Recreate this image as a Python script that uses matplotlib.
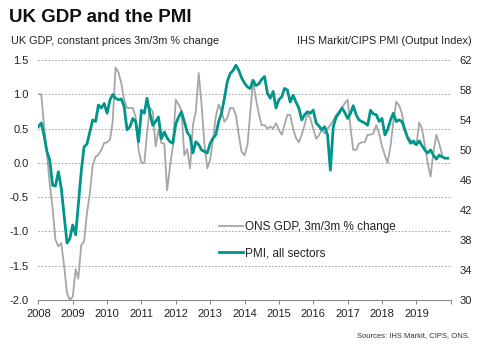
import matplotlib
matplotlib.use("Agg")
import matplotlib.pyplot as plt
import numpy as np
import pandas as pd

plt.rcParams['font.family'] = ['Liberation Sans', 'DejaVu Sans']

# monthly series, Jan 2008 onwards
gdp = [1.00, 1.00, 0.55, 0.15, -0.30, -0.66, -1.12, -1.22, -1.17, -1.50,
       -1.90, -2.00, -1.95, -1.55, -1.69, -1.20, -1.15, -0.73, -0.45, -0.03,
       0.09, 0.12, 0.19, 0.29, 0.30, 0.34, 0.60, 1.39, 1.32, 1.16,
       0.92, 0.80, 0.80, 0.80, 0.67, 0.19, 0.00, 0.00, 0.43, 0.80,
       0.75, 0.24, 0.48, 0.29, 0.28, -0.40, -0.05, 0.24, 0.92, 0.85,
       0.77, 0.11, 0.20, -0.08, 0.55, 0.75, 1.31, 0.85, 0.26, -0.08,
       0.05, 0.35, 0.67, 0.85, 0.75, 0.60, 0.65, 0.80, 0.80, 0.70,
       0.40, 0.16, 0.11, 0.26, 0.70, 1.20, 0.94, 0.72, 0.55, 0.55,
       0.50, 0.53, 0.50, 0.58, 0.48, 0.41, 0.55, 0.70, 0.70, 0.50,
       0.36, 0.30, 0.41, 0.55, 0.72, 0.65, 0.50, 0.35, 0.40, 0.48,
       0.43, 0.50, 0.55, 0.62, 0.70, 0.75, 0.80, 0.87, 0.92, 0.50,
       0.19, 0.19, 0.28, 0.30, 0.30, 0.41, 0.41, 0.43, 0.55, 0.43,
       0.24, 0.11, 0.00, 0.24, 0.60, 0.89, 0.84, 0.72, 0.48, 0.38,
       0.33, 0.28, 0.26, 0.59, 0.50, 0.26, 0.00, -0.20, 0.15, 0.41,
       0.28, 0.12]

pmi = [53.1, 53.6, 52.0, 49.8, 48.7, 45.3, 45.2, 47.1, 44.9, 41.3,
       37.6, 38.2, 40.0, 38.7, 42.7, 47.1, 50.4, 50.8, 52.4, 54.0,
       53.8, 56.0, 55.6, 56.2, 54.9, 56.7, 57.4, 56.9, 56.7, 56.8,
       55.8, 52.7, 53.1, 54.2, 53.8, 51.1, 55.3, 54.9, 56.9, 54.9,
       53.3, 53.8, 54.4, 51.5, 52.4, 51.6, 51.1, 50.9, 53.5, 54.4,
       55.1, 53.8, 52.4, 51.8, 49.6, 51.1, 50.7, 50.0, 49.8, 49.6,
       50.9, 51.6, 52.0, 53.8, 54.9, 56.9, 59.1, 60.2, 60.6, 61.3,
       60.6, 59.6, 58.9, 58.4, 58.2, 59.3, 58.6, 58.8, 59.4, 59.8,
       57.6, 56.9, 57.8, 55.6, 56.7, 57.1, 58.2, 58.0, 56.4, 57.3,
       56.4, 55.6, 54.0, 54.7, 55.1, 54.9, 55.3, 53.6, 53.2, 52.7,
       53.1, 52.0, 47.3, 53.1, 54.4, 54.9, 55.6, 55.0, 54.2, 54.9,
       55.9, 54.7, 54.0, 53.8, 53.6, 53.3, 55.3, 54.8, 54.7, 53.8,
       54.2, 52.0, 52.7, 54.0, 54.9, 53.8, 54.0, 53.8, 52.7, 51.6,
       50.9, 51.2, 50.7, 51.2, 50.6, 50.0, 49.6, 50.0, 49.3, 48.8,
       49.3, 49.1, 48.9, 48.9]

years = list(range(2008, 2021))
year_labels = [str(y) for y in range(2008, 2020)] + ['']
gdp_ticks = [-2.0, -1.5, -1.0, -0.5, 0.0, 0.5, 1.0, 1.5]
pmi_ticks = [30, 34, 38, 42, 46, 50, 54, 58, 62]

gdp_dates = pd.date_range('2008-01-01', periods=len(gdp), freq='MS')
pmi_dates = pd.date_range('2008-01-01', periods=len(pmi), freq='MS')

teal = '#00958A'
grey = '#A6A6A6'
txt = '#222222'

fig = plt.figure(figsize=(4.9, 3.51), dpi=100)
ax = fig.add_axes([0.0782, 0.1453, 0.8416, 0.6838])
ax2 = ax.twinx()

l1, = ax.plot(gdp_dates, gdp, color=grey, lw=1.3, label='ONS GDP, 3m/3m % change')
l2, = ax2.plot(pmi_dates, pmi, color=teal, lw=2.0, label='PMI, all sectors')

ax.set_xlim(pd.Timestamp('2008-01-01'), pd.Timestamp('2020-01-01'))
ax.set_xticks([pd.Timestamp(f'{y}-01-01') for y in years])
ax.set_xticklabels(year_labels)
ax.set_ylim(-2, 1.5)
ax.set_yticks(gdp_ticks)
ax.set_yticklabels([f'{v:.1f}' for v in gdp_ticks])
ax2.set_ylim(30, 62)
ax2.set_yticks(pmi_ticks)

for a in (ax, ax2):
    for s in ('top', 'left', 'right', 'bottom'):
        a.spines[s].set_visible(False)
ax.spines['bottom'].set_visible(True)
ax.spines['bottom'].set_color('#8c8c8c')
ax.spines['bottom'].set_linewidth(0.8)

ax.grid(axis='y', color='#9a9a9a', linestyle=(0, (2, 2)), lw=0.6)
ax.set_axisbelow(True)
ax.tick_params(axis='x', length=3, width=0.8, color='#8c8c8c', pad=3.5,
               labelsize=8, labelcolor=txt)
ax.tick_params(axis='y', length=0, pad=7, labelsize=8, labelcolor=txt)
ax2.tick_params(axis='y', length=0, pad=6.5, labelsize=8, labelcolor=txt)

ax2.legend([l1, l2], [l1.get_label(), l2.get_label()], loc='upper left',
           bbox_to_anchor=(213 / 490, 1 - 215 / 351), bbox_transform=fig.transFigure,
           frameon=False, fontsize=8.5, borderpad=0, handlelength=2.0,
           handletextpad=0.25, labelspacing=1.2, labelcolor=txt)

fig.text(9 / 490, 1 - 22 / 351, 'UK GDP and the PMI', fontsize=13.5,
         fontweight='bold', color='#111111', va='baseline')
fig.text(11 / 490, 1 - 43.5 / 351, 'UK GDP, constant prices 3m/3m % change',
         fontsize=7.8, color=txt, va='baseline')
fig.text(472 / 490, 1 - 43.5 / 351, 'IHS Markit/CIPS PMI (Output Index)',
         fontsize=7.8, color=txt, va='baseline', ha='right')
fig.text(470 / 490, 1 - 337 / 351, 'Sources: IHS Markit, CIPS, ONS.',
         fontsize=5.5, color='#333333', va='baseline', ha='right')

fig.savefig('out.png', dpi=100)
